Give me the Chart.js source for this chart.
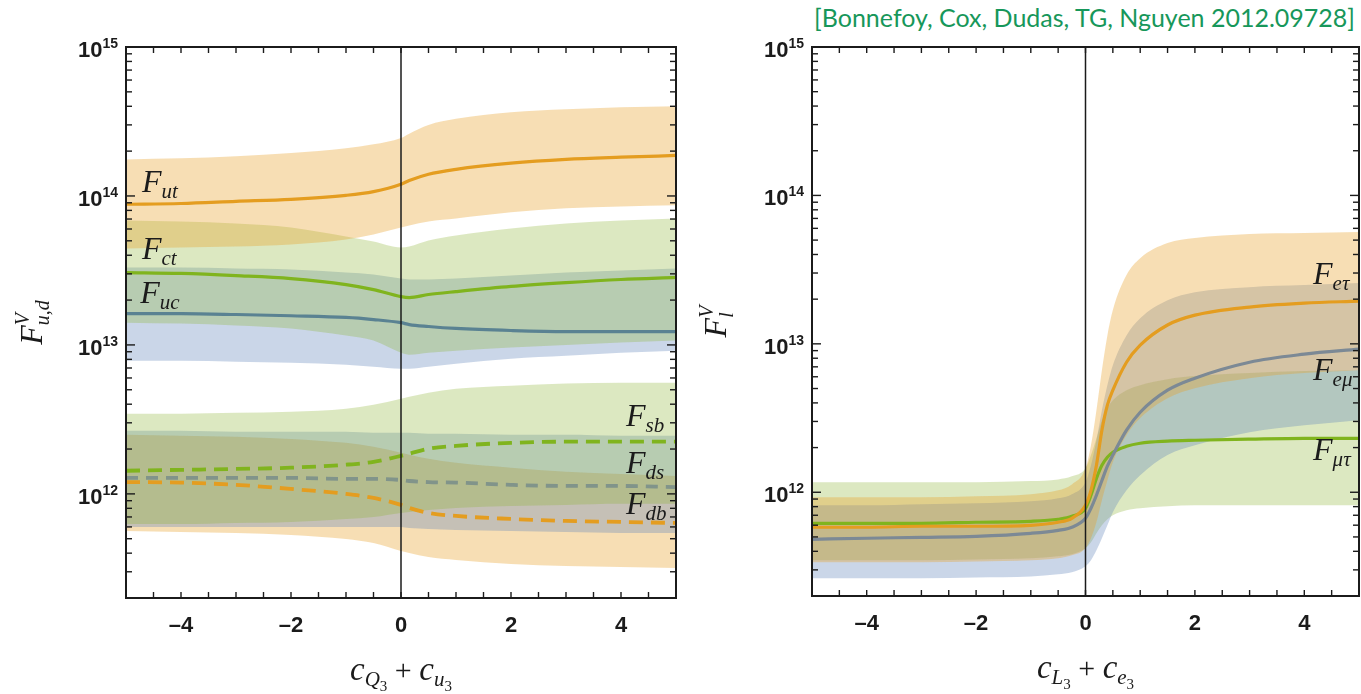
<!DOCTYPE html>
<html>
<head>
<meta charset="utf-8">
<script src="https://cdn.jsdelivr.net/npm/chart.js@4.4.0/dist/chart.umd.min.js"></script>
<style>
  html, body { margin: 0; padding: 0; background: #fff; }
  body { width: 1361px; height: 694px; position: relative; overflow: hidden; }
  .panel { position: absolute; top: 0; }
  #cite { position: absolute; right: 6px; top: 2px; font-family: Lato, "Open Sans", sans-serif;
          font-size: 25px; color: #17975a; white-space: nowrap; }
</style>
</head>
<body>
<div id="cite">[Bonnefoy, Cox, Dudas, TG, Nguyen 2012.09728]</div>
<div class="panel" style="left:0"><canvas id="quarkChart" width="690" height="694"></canvas></div>
<div class="panel" style="left:690px"><canvas id="leptonChart" width="671" height="694"></canvas></div>
<script>
// ---- data (x = c_Q3 + c_u3 / c_L3 + c_e3, y = F^V) ----
const quarkX = [-5, -4, -3, -2, -1, -0.5, 0, 0.15, 0.5, 1, 2, 3, 4, 5];

const futLine = [8.8e13, 8.9e13, 9.2e13, 9.5e13, 1.01e14, 1.07e14, 1.20e14, 1.27e14, 1.40e14, 1.51e14, 1.66e14, 1.76e14, 1.82e14, 1.87e14];
const futHigh = [1.76e14, 1.79e14, 1.85e14, 1.94e14, 2.09e14, 2.22e14, 2.45e14, 2.62e14, 3.0e14, 3.3e14, 3.65e14, 3.82e14, 3.94e14, 4.0e14];
const futLow  = [4.44e13, 4.51e13, 4.58e13, 4.73e13, 5.1e13, 5.52e13, 6.15e13, 6.34e13, 6.75e13, 7.06e13, 7.76e13, 8.26e13, 8.5e13, 8.65e13];

const fctLine = [3.06e13, 3.02e13, 2.92e13, 2.79e13, 2.54e13, 2.35e13, 2.11e13, 2.08e13, 2.18e13, 2.28e13, 2.47e13, 2.62e13, 2.75e13, 2.84e13];
const fctHigh = [6.85e13, 6.75e13, 6.54e13, 6.15e13, 5.35e13, 4.95e13, 4.51e13, 4.58e13, 5.03e13, 5.43e13, 6.05e13, 6.54e13, 6.85e13, 7.06e13];
const fctLow  = [1.41e13, 1.39e13, 1.35e13, 1.29e13, 1.155e13, 1.07e13, 8.87e12, 8.6e12, 8.87e12, 9.15e12, 9.6e12, 1.0e13, 1.04e13, 1.07e13];

const fucLine = [1.62e13, 1.62e13, 1.6e13, 1.57e13, 1.53e13, 1.48e13, 1.41e13, 1.37e13, 1.33e13, 1.29e13, 1.25e13, 1.23e13, 1.23e13, 1.23e13];
const fucHigh = [3.31e13, 3.31e13, 3.26e13, 3.21e13, 3.06e13, 2.97e13, 2.79e13, 2.75e13, 2.75e13, 2.79e13, 2.92e13, 3.06e13, 3.16e13, 3.26e13];
const fucLow  = [7.84e12, 7.84e12, 7.72e12, 7.6e12, 7.37e12, 7.14e12, 6.93e12, 6.93e12, 7.14e12, 7.48e12, 8.09e12, 8.47e12, 8.87e12, 9.15e12];

const fsbLine = [1.43e12, 1.45e12, 1.47e12, 1.5e12, 1.57e12, 1.64e12, 1.8e12, 1.86e12, 2.01e12, 2.1e12, 2.2e12, 2.24e12, 2.24e12, 2.24e12];
const fsbHigh = [3.45e12, 3.45e12, 3.5e12, 3.56e12, 3.73e12, 3.97e12, 4.35e12, 4.49e12, 4.78e12, 5.08e12, 5.32e12, 5.5e12, 5.58e12, 5.58e12];
const fsbLow  = [6.28e11, 6.28e11, 6.38e11, 6.48e11, 6.79e11, 7.0e11, 7.45e11, 7.57e11, 7.8e11, 8.05e11, 8.3e11, 8.43e11, 8.57e11, 8.57e11];

const fdsLine = [1.28e12, 1.28e12, 1.28e12, 1.28e12, 1.26e12, 1.26e12, 1.24e12, 1.22e12, 1.2e12, 1.19e12, 1.15e12, 1.13e12, 1.13e12, 1.11e12];
const fdsHigh = [2.65e12, 2.65e12, 2.61e12, 2.61e12, 2.61e12, 2.57e12, 2.57e12, 2.57e12, 2.53e12, 2.53e12, 2.49e12, 2.49e12, 2.46e12, 2.46e12];
const fdsLow  = [6.0e11, 6.0e11, 6.0e11, 6.0e11, 6.0e11, 6.0e11, 6.0e11, 5.9e11, 5.81e11, 5.72e11, 5.64e11, 5.55e11, 5.47e11, 5.47e11];

const fdbLine = [1.2e12, 1.19e12, 1.15e12, 1.08e12, 1.0e12, 9.4e11, 8.43e11, 8.05e11, 7.45e11, 7.11e11, 6.79e11, 6.58e11, 6.48e11, 6.38e11];
const fdbHigh = [2.49e12, 2.46e12, 2.42e12, 2.34e12, 2.2e12, 2.07e12, 1.89e12, 1.83e12, 1.72e12, 1.62e12, 1.5e12, 1.41e12, 1.36e12, 1.32e12];
const fdbLow  = [5.64e11, 5.55e11, 5.47e11, 5.3e11, 4.98e11, 4.68e11, 4.14e11, 4.01e11, 3.77e11, 3.6e11, 3.38e11, 3.28e11, 3.23e11, 3.18e11];

const leptonX = [-5, -4, -3, -2, -1, -0.5, -0.25, 0, 0.1, 0.2, 0.3, 0.4, 0.5, 0.75, 1, 1.5, 2, 3, 4, 5];

const fetLine = [5.81e11, 5.81e11, 5.9e11, 5.9e11, 5.99e11, 6.28e11, 6.68e11, 8.17e11, 1.03e12, 1.52e12, 2.62e12, 3.86e12, 4.87e12, 7.52e12, 9.8e12, 1.34e13, 1.56e13, 1.77e13, 1.88e13, 1.94e13];
const fetHigh = [9.25e11, 9.25e11, 9.25e11, 9.4e11, 9.7e11, 1.03e12, 1.13e12, 1.45e12, 2.07e12, 3.57e12, 6.65e12, 1.14e13, 1.69e13, 2.91e13, 3.78e13, 4.78e13, 5.16e13, 5.49e13, 5.58e13, 5.67e13];
const fetLow  = [3.37e11, 3.37e11, 3.37e11, 3.42e11, 3.48e11, 3.59e11, 3.76e11, 4.19e11, 4.9e11, 6.28e11, 8.84e11, 1.2e12, 1.59e12, 2.42e12, 3.16e12, 4.3e12, 5.03e12, 5.87e12, 6.35e12, 6.65e12];

const femLine = [4.82e11, 4.9e11, 4.97e11, 5.05e11, 5.29e11, 5.54e11, 5.81e11, 6.68e11, 7.8e11, 9.55e11, 1.2e12, 1.5e12, 1.78e12, 2.62e12, 3.46e12, 4.87e12, 5.87e12, 7.52e12, 8.52e12, 9.21e12];
const femHigh = [8.17e11, 8.17e11, 8.3e11, 8.43e11, 8.7e11, 9.11e11, 9.7e11, 1.17e12, 1.52e12, 2.24e12, 3.57e12, 5.27e12, 7.18e12, 1.14e13, 1.49e13, 1.97e13, 2.23e13, 2.41e13, 2.49e13, 2.57e13];
const femLow  = [2.63e11, 2.63e11, 2.63e11, 2.67e11, 2.71e11, 2.8e11, 2.89e11, 3.17e11, 3.48e11, 4.06e11, 4.9e11, 5.99e11, 7.33e11, 1.03e12, 1.3e12, 1.78e12, 2.07e12, 2.54e12, 2.83e12, 3.06e12];

const fmtLine = [6.18e11, 6.18e11, 6.18e11, 6.28e11, 6.37e11, 6.58e11, 6.89e11, 7.8e11, 9.55e11, 1.24e12, 1.52e12, 1.72e12, 1.86e12, 2.04e12, 2.14e12, 2.21e12, 2.24e12, 2.28e12, 2.31e12, 2.31e12];
const fmtHigh = [1.17e12, 1.17e12, 1.17e12, 1.17e12, 1.19e12, 1.22e12, 1.28e12, 1.45e12, 1.78e12, 2.31e12, 3.06e12, 3.68e12, 4.17e12, 4.87e12, 5.27e12, 5.78e12, 6.06e12, 6.35e12, 6.55e12, 6.65e12];
const fmtLow  = [3.48e11, 3.48e11, 3.48e11, 3.53e11, 3.59e11, 3.7e11, 3.82e11, 4.19e11, 4.6e11, 5.29e11, 5.99e11, 6.58e11, 7.0e11, 7.56e11, 7.8e11, 8.04e11, 8.17e11, 8.17e11, 8.17e11, 8.17e11];

// axis ranges and tick labels
const xRange = [-5, 5];
const yRange = [2e11, 1e15];
const xTickStep = 0.5;
const xTickLabels = [-4, -2, 0, 2, 4];
const yLabelExps = [12, 13, 14, 15];

// ---- styling ----
const ORANGE = '#e49d20', GREEN = '#80b41e', TEAL = '#5a8292', GREY_DS = '#81948a', GREY_EM = '#7c8995';
const FILL_O = 'rgba(232,160,40,0.35)', FILL_G = 'rgba(140,180,50,0.3)', FILL_B = 'rgba(95,130,185,0.33)';
const SERIF = '"Liberation Serif", "DejaVu Serif", serif';
const SANS = '"Liberation Sans", Arial, sans-serif';
const INK = '#1b1b1b';

function pts(xs, ys) { return xs.map((x, i) => ({ x: x, y: ys[i] })); }

function buildDatasets(xs, series) {
  const ds = [];
  series.forEach(s => {
    ds.push({ data: pts(xs, s.high), borderWidth: 0, pointRadius: 0, fill: '+1',
              backgroundColor: s.fill, cubicInterpolationMode: 'monotone', order: 2 });
    ds.push({ data: pts(xs, s.low), borderWidth: 0, pointRadius: 0, fill: false,
              cubicInterpolationMode: 'monotone', order: 2 });
  });
  series.forEach(s => {
    ds.push({ data: pts(xs, s.line), borderColor: s.color, borderWidth: s.dash ? 3.8 : 3.2,
              borderDash: s.dash || [], pointRadius: 0, fill: false,
              cubicInterpolationMode: 'monotone', order: 1 });
  });
  return ds;
}

// rich text: runs of {t, font, dy, stack}
function drawRuns(ctx, runs, x, y, align) {
  let cur = 0, lastStart = 0;
  const items = runs.map(r => {
    ctx.font = r.font;
    const w = ctx.measureText(r.t).width;
    const px = r.stack ? lastStart : cur;
    if (!r.stack) lastStart = cur;
    cur = Math.max(cur, px + w);
    return Object.assign({}, r, { px: px });
  });
  const x0 = align === 'center' ? x - cur / 2 : align === 'right' ? x - cur : x;
  ctx.textAlign = 'left';
  ctx.textBaseline = 'alphabetic';
  items.forEach(it => { ctx.font = it.font; ctx.fillText(it.t, x0 + it.px, y + (it.dy || 0)); });
}

function fLabel(sub) {
  return [{ t: 'F', font: 'italic 32px ' + SERIF },
          { t: sub, font: 'italic 21px ' + SERIF, dy: 6 }];
}
function cTitle(a, b) {
  return [{ t: 'c', font: 'italic 33px ' + SERIF },
          { t: a, font: 'italic 21px ' + SERIF, dy: 6 },
          { t: '3', font: '15px ' + SERIF, dy: 11 },
          { t: ' + ', font: '30px ' + SERIF },
          { t: 'c', font: 'italic 33px ' + SERIF },
          { t: b, font: 'italic 21px ' + SERIF, dy: 6 },
          { t: '3', font: '15px ' + SERIF, dy: 11 }];
}
function fTitle(sub) {
  return [{ t: 'F', font: 'italic 32px ' + SERIF },
          { t: 'V', font: 'italic 20px ' + SERIF, dy: -13 },
          { t: sub, font: 'italic 20px ' + SERIF, dy: 7, stack: true }];
}

const decor = {
  id: 'decor',
  afterDatasetsDraw(chart, args, o) {
    const ctx = chart.ctx, a = chart.chartArea, xs = chart.scales.x, ys = chart.scales.y;
    ctx.save();
    ctx.strokeStyle = INK;
    const seg = (x1, y1, x2, y2) => { ctx.beginPath(); ctx.moveTo(x1, y1); ctx.lineTo(x2, y2); ctx.stroke(); };

    // x = 0 line
    ctx.lineWidth = 1.5;
    const z = xs.getPixelForValue(0);
    seg(z, a.top, z, a.bottom);

    // inward ticks
    ctx.lineWidth = 1.4;
    for (let v = xRange[0]; v <= xRange[1] + 1e-9; v += xTickStep) {
      const px = xs.getPixelForValue(v);
      seg(px, a.bottom, px, a.bottom - 6);
      seg(px, a.top, px, a.top + 6);
    }
    const e0 = Math.floor(Math.log10(yRange[0])), e1 = Math.ceil(Math.log10(yRange[1]));
    for (let e = e0; e <= e1; e++) {
      for (let m = 1; m <= 9; m++) {
        const v = m * Math.pow(10, e);
        if (v < yRange[0] * 0.999 || v > yRange[1] * 1.001) continue;
        const py = ys.getPixelForValue(v), len = m === 1 ? 9 : 6;
        seg(a.left, py, a.left + len, py);
        seg(a.right, py, a.right - len, py);
      }
    }

    // frame
    ctx.lineWidth = 2;
    ctx.strokeRect(a.left, a.top, a.right - a.left, a.bottom - a.top);

    // tick labels
    ctx.fillStyle = INK;
    xTickLabels.forEach(v => {
      const txt = v < 0 ? '\u2013' + Math.abs(v) : String(v);
      drawRuns(ctx, [{ t: txt, font: 'bold 22px ' + SANS }], xs.getPixelForValue(v), a.bottom + 34, 'center');
    });
    yLabelExps.forEach(e => {
      const py = ys.getPixelForValue(Math.pow(10, e));
      drawRuns(ctx, [{ t: '10', font: 'bold 22px ' + SANS },
                     { t: String(e), font: 'bold 14px ' + SANS, dy: -9 }], a.left - 8, py + 10, 'right');
    });

    // axis titles
    drawRuns(ctx, o.xTitle, (a.left + a.right) / 2, a.bottom + 82, 'center');
    ctx.save();
    ctx.translate(a.left - o.yTitleOffset, (a.top + a.bottom) / 2);
    ctx.rotate(-Math.PI / 2);
    drawRuns(ctx, o.yTitle, 0, 10, 'center');
    ctx.restore();

    // curve labels, anchored in data coordinates
    o.labels.forEach(l => {
      drawRuns(ctx, fLabel(l.sub), xs.getPixelForValue(l.x), ys.getPixelForValue(l.y), 'left');
    });
    ctx.restore();
  }
};

function makeChart(id, xs, series, pad, deco) {
  return new Chart(document.getElementById(id), {
    type: 'line',
    data: { datasets: buildDatasets(xs, series) },
    plugins: [decor],
    options: {
      responsive: false,
      animation: false,
      layout: { padding: pad },
      plugins: { legend: { display: false }, tooltip: { enabled: false }, decor: deco },
      scales: {
        x: { type: 'linear', min: xRange[0], max: xRange[1], display: false },
        y: { type: 'logarithmic', min: yRange[0], max: yRange[1], display: false }
      }
    }
  });
}

makeChart('quarkChart', quarkX, [
  { high: futHigh, low: futLow, line: futLine, fill: FILL_O, color: ORANGE },
  { high: fctHigh, low: fctLow, line: fctLine, fill: FILL_G, color: GREEN },
  { high: fucHigh, low: fucLow, line: fucLine, fill: FILL_B, color: TEAL },
  { high: fsbHigh, low: fsbLow, line: fsbLine, fill: FILL_G, color: GREEN, dash: [14, 8] },
  { high: fdsHigh, low: fdsLow, line: fdsLine, fill: FILL_B, color: GREY_DS, dash: [12, 8] },
  { high: fdbHigh, low: fdbLow, line: fdbLine, fill: FILL_O, color: ORANGE, dash: [14, 8] }
], { left: 126, right: 14, top: 47, bottom: 96 }, {
  xTitle: cTitle('Q', 'u'),
  yTitle: fTitle('u,d'),
  yTitleOffset: 94,
  labels: [
    { sub: 'ut', x: -4.71, y: 1.06e14 },
    { sub: 'ct', x: -4.71, y: 3.8e13 },
    { sub: 'uc', x: -4.74, y: 1.92e13 },
    { sub: 'sb', x: 4.09, y: 2.87e12 },
    { sub: 'ds', x: 4.09, y: 1.38e12 },
    { sub: 'db', x: 4.09, y: 7.3e11 }
  ]
});

makeChart('leptonChart', leptonX, [
  { high: fetHigh, low: fetLow, line: fetLine, fill: FILL_O, color: ORANGE },
  { high: femHigh, low: femLow, line: femLine, fill: FILL_B, color: GREY_EM },
  { high: fmtHigh, low: fmtLow, line: fmtLine, fill: FILL_G, color: GREEN }
], { left: 122, right: 2, top: 47, bottom: 98 }, {
  xTitle: cTitle('L', 'e'),
  yTitle: fTitle('l'),
  yTitleOffset: 96,
  labels: [
    { sub: 'e\u03c4', x: 4.16, y: 2.53e13 },
    { sub: 'e\u03bc', x: 4.16, y: 5.69e12 },
    { sub: '\u03bc\u03c4', x: 4.16, y: 1.64e12 }
  ]
});
</script>
</body>
</html>
